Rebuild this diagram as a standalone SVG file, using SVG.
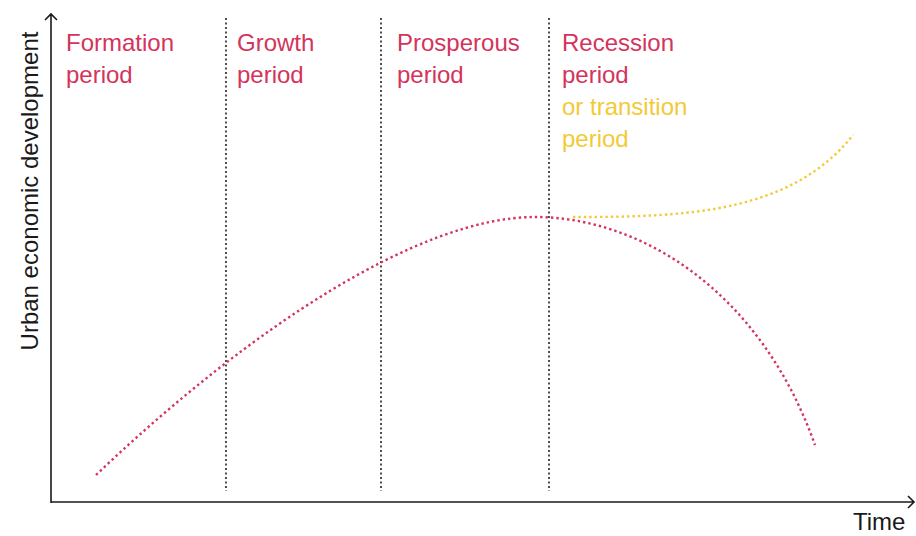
<svg xmlns="http://www.w3.org/2000/svg" width="916" height="536" viewBox="0 0 916 536">
<style>
.axis{fill:none;stroke:#1a1a1a;stroke-width:1.6}
.div{fill:none;stroke:#222;stroke-width:1.6;stroke-dasharray:2 2.5}
.red{fill:none;stroke:#d4345c;stroke-width:2.4;stroke-dasharray:2.4 3}
.yel{fill:none;stroke:#f2ca38;stroke-width:2.4;stroke-dasharray:2.4 3}
text{font-family:"Liberation Sans",Arial,sans-serif;font-size:24px}
.r{fill:#d4345c}
.y{fill:#f2ca38}
.k{fill:#1a1a1a}
</style>
<g id="axes">
<path class="axis" d="M51,503 V14 M45,20 L51,14 L57,20"/>
<path class="axis" d="M51,502 H914 M908,496 L914,502 L908,508"/>
<text class="k" transform="translate(38,191) rotate(-90)" text-anchor="middle">Urban economic development</text>
<text class="k" x="853" y="530">Time</text>
</g>
<g id="dividers">
<line class="div" x1="226" y1="18" x2="226" y2="491"/>
<line class="div" x1="381" y1="18" x2="381" y2="491"/>
<line class="div" x1="549" y1="18" x2="549" y2="491"/>
</g>
<g id="formation"><text class="r" x="66" y="51">Formation</text><text class="r" x="66" y="83">period</text></g>
<g id="growth"><text class="r" x="237" y="51">Growth</text><text class="r" x="237" y="83">period</text></g>
<g id="prosperous"><text class="r" x="397" y="51">Prosperous</text><text class="r" x="397" y="83">period</text></g>
<g id="recession"><text class="r" x="562" y="51">Recession</text><text class="r" x="562" y="83">period</text>
<text class="y" x="562" y="115">or transition</text><text class="y" x="562" y="147">period</text></g>
<g id="connectors">
<path class="red" d="M96,475 C250,328 420,217 535,217 C640,217 760,290 815,445"/>
<path class="yel" d="M573,217 C680,217 790,215 853,135"/>
</g>
</svg>
